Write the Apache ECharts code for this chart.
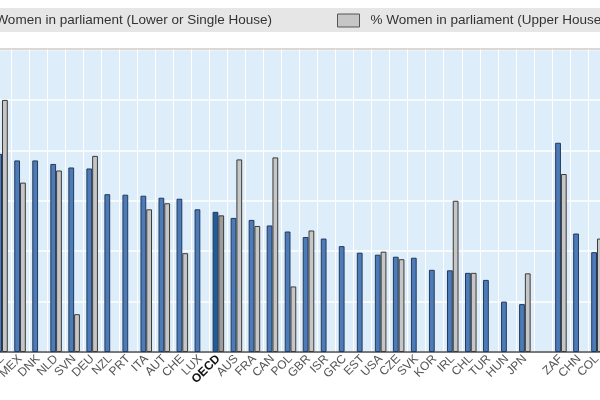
<!DOCTYPE html>
<html>
<head>
<meta charset="utf-8">
<script src="https://cdn.jsdelivr.net/npm/echarts@6/dist/echarts.min.js"></script>
<style>
html,body{margin:0;padding:0;background:#fff;width:600px;height:400px;overflow:hidden;position:relative;}
#c{position:absolute;left:-30px;top:0;width:660px;height:400px;}
</style>
</head>
<body>
<div id="c"></div>
<script>
const categories = ['BEL','MEX','DNK','NLD','SVN','DEU','NZL','PRT','ITA','AUT','CHE','LUX','OECD','AUS','FRA','CAN','POL','GBR','ISR','GRC','EST','USA','CZE','SVK','KOR','IRL','CHL','TUR','HUN','JPN','','ZAF','CHN','COL'];
const lowerHouse = [39.3,38.0,38.0,37.3,36.6,36.4,31.3,31.2,31.0,30.6,30.4,28.3,27.8,26.6,26.2,25.1,23.9,22.8,22.5,21.0,19.7,19.3,18.9,18.7,16.3,16.2,15.7,14.3,10.0,9.5,null,41.5,23.5,19.8];
const upperHouse = [50.0,33.6,null,36.0,7.5,38.9,null,null,28.3,29.5,19.6,null,27.1,38.2,25.0,38.6,13.0,24.1,null,null,null,19.9,18.4,null,null,30.0,15.7,null,null,15.6,null,35.3,null,22.5];
const seriesNames = ['% Women in parliament (Lower or Single House)','% Women in parliament (Upper House)'];
const yTicks = [0,10,20,30,40,50,60];

const OFF = 30;           // canvas is shifted left by this many px
const W = 660;
const FONT = 'Liberation Sans, Arial, Helvetica, sans-serif';
const blue = '#4d7bb8', blueOECD = '#1f5c99', blueBorder = '#22395a';
const gray = '#c6c6c6', grayOECD = '#9c9c9c', grayBorder = '#3a3a3a';

function mk(vals, oecd) {
  return vals.map((v, i) => categories[i] === 'OECD'
    ? { value: v, itemStyle: { color: oecd } }
    : v);
}

const chart = echarts.init(document.getElementById('c'), null, { renderer: 'canvas' });
chart.setOption({
  animation: false,
  backgroundColor: '#ffffff',
  graphic: [{
    type: 'rect', z: -1, silent: true,
    shape: { x: 0, y: 8, width: W, height: 24 },
    style: { fill: '#e6e6e6' }
  }],
  legend: [
    {
      data: [seriesNames[0]], right: W - (OFF + 272) - 5, top: 8.5,
      itemWidth: 22, itemHeight: 13, icon: 'rect',
      itemStyle: { borderColor: '#22395a', borderWidth: 1 },
      textStyle: { fontFamily: FONT, fontSize: 13.5, color: '#333', padding: [0, 0, 0, 6] }
    },
    {
      data: [seriesNames[1]], left: OFF + 337 - 5, top: 8.5,
      itemWidth: 22, itemHeight: 13, icon: 'rect',
      itemStyle: { borderColor: '#555', borderWidth: 1 },
      textStyle: { fontFamily: FONT, fontSize: 13.5, color: '#333', padding: [0, 0, 0, 6] }
    }
  ],
  grid: {
    left: OFF - 7, right: W - (OFF + 606), top: 49.5, bottom: 48,
    show: true, backgroundColor: '#ddeefa', borderColor: '#666', borderWidth: 1.5
  },
  xAxis: {
    type: 'category', data: categories,
    axisLine: { show: true, lineStyle: { color: '#555', width: 1.5 } },
    axisTick: { show: false },
    splitLine: { show: true, interval: 0, lineStyle: { color: '#ffffff', width: 1 } },
    axisLabel: {
      interval: 0, rotate: 45, margin: 5,
      fontFamily: FONT, fontSize: 12, color: '#555',
      formatter: v => v === 'OECD' ? '{b|' + v + '}' : v,
      rich: { b: { fontWeight: 'bold', color: '#111', fontFamily: FONT, fontSize: 12 } }
    }
  },
  yAxis: {
    type: 'value', min: yTicks[0], max: yTicks[yTicks.length - 1], interval: 10,
    axisLine: { show: false }, axisTick: { show: false }, axisLabel: { show: false },
    splitLine: { show: true, lineStyle: { color: '#ffffff', width: 1.5 } }
  },
  series: [
    {
      name: seriesNames[0], type: 'bar', data: mk(lowerHouse, blueOECD),
      barGap: '0%', barCategoryGap: '36%',
      itemStyle: { color: blue, borderColor: blueBorder, borderWidth: 1 }
    },
    {
      name: seriesNames[1], type: 'bar', data: mk(upperHouse, grayOECD),
      barGap: '0%', barCategoryGap: '36%',
      itemStyle: { color: gray, borderColor: grayBorder, borderWidth: 1 }
    }
  ]
});
</script>
</body>
</html>
